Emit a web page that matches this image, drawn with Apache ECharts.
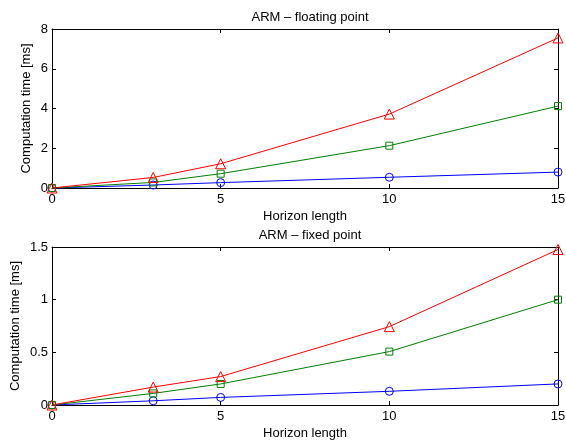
<!DOCTYPE html>
<html><head><meta charset="utf-8">
<script src="https://cdn.jsdelivr.net/npm/echarts@6/dist/echarts.min.js"></script>
<style>html,body{margin:0;padding:0;background:#fff}#c{width:566px;height:444px}</style>
</head><body><div id="c"></div>
<script>
const horizon = [0, 3, 5, 10, 15];
const floatBlue = [0, 0.15, 0.27, 0.54, 0.80];
const floatGreen = [0, 0.28, 0.72, 2.13, 4.12];
const floatRed = [0, 0.53, 1.22, 3.72, 7.55];
const fixedBlue = [0, 0.04, 0.072, 0.13, 0.20];
const fixedGreen = [0, 0.11, 0.20, 0.507, 1.00];
const fixedRed = [0, 0.17, 0.27, 0.744, 1.476];
const titles = ['ARM \u2013 floating point', 'ARM \u2013 fixed point'];
const xTicks = [0, 5, 10, 15];

const FONT = 'Liberation Sans, Arial, sans-serif';
const FS = 13;
const chart = echarts.init(document.getElementById('c'));
const pair = (ys) => horizon.map((x, i) => [x, ys[i]]);
const grids = [
  {left: 52, top: 29, width: 506, height: 159, outerBoundsMode: 'none', containLabel: false},
  {left: 52, top: 247, width: 506, height: 158, outerBoundsMode: 'none', containLabel: false}
];
const xAxes = [], yAxes = [], series = [];
const yCfg = [{max: 8, interval: 2, gap: 19}, {max: 1.5, interval: 0.5, gap: 30}];
grids.forEach((g, gi) => {
  const common = {gridIndex: gi, type: 'value', min: xTicks[0], max: xTicks[xTicks.length - 1], interval: 5,
    axisLine: {show: true, onZero: false, lineStyle: {color: '#000', width: 1}},
    axisTick: {show: true, inside: true, length: 4, lineStyle: {color: '#000'}},
    splitLine: {show: false}};
  xAxes.push(Object.assign({}, common, {position: 'bottom',
    name: 'Horizon length', nameLocation: 'middle', nameGap: 22,
    nameTextStyle: {fontFamily: FONT, fontSize: FS, color: '#000'},
    axisLabel: {fontFamily: FONT, fontSize: FS, color: '#000', margin: 5}}));
  xAxes.push(Object.assign({}, common, {position: 'top', axisLabel: {show: false}}));
  const yc = {gridIndex: gi, type: 'value', min: 0, max: yCfg[gi].max, interval: yCfg[gi].interval,
    axisLine: {show: true, onZero: false, lineStyle: {color: '#000', width: 1}},
    axisTick: {show: true, inside: true, length: 4, lineStyle: {color: '#000'}},
    splitLine: {show: false}};
  yAxes.push(Object.assign({}, yc, {position: 'left',
    name: 'Computation time [ms]', nameLocation: 'middle', nameGap: yCfg[gi].gap, nameMoveOverlap: false,
    nameTextStyle: {fontFamily: FONT, fontSize: FS, color: '#000'},
    axisLabel: {fontFamily: FONT, fontSize: FS, color: '#000', margin: 4}}));
  yAxes.push(Object.assign({}, yc, {position: 'right', axisLabel: {show: false}}));
});
const mk = (gi, data, color, symbol, size) => ({
  type: 'line', xAxisIndex: gi * 2, yAxisIndex: gi * 2, data: pair(data),
  symbol: symbol, symbolSize: size, clip: false, z: 3,
  lineStyle: {color: color, width: 1},
  itemStyle: {color: 'rgba(0,0,0,0)', borderColor: color, borderWidth: 1}
});
[[floatBlue, floatGreen, floatRed], [fixedBlue, fixedGreen, fixedRed]].forEach((s, gi) => {
  series.push(mk(gi, s[0], '#0000ff', 'circle', 8));
  series.push(mk(gi, s[1], '#008000', 'rect', 7));
  series.push(mk(gi, s[2], '#ff0000', 'triangle', 10));
});
chart.setOption({
  backgroundColor: '#fff',
  animation: false,
  title: titles.map((t, i) => ({text: t, left: 305, textAlign: 'center', top: i === 0 ? 6 : 224,
    textStyle: {fontFamily: FONT, fontSize: FS, fontWeight: 'normal', color: '#000'}})),
  grid: grids,
  xAxis: xAxes,
  yAxis: yAxes,
  series: series
});
</script></body></html>
